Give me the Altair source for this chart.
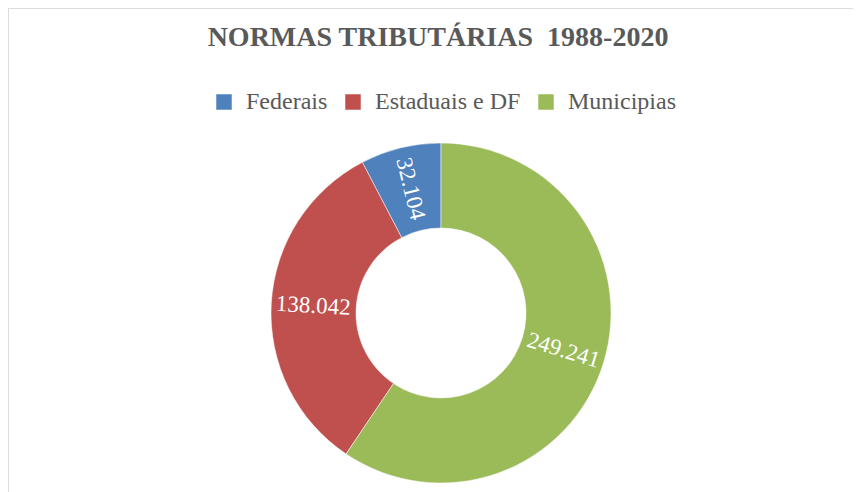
import altair as alt
import pandas as pd

categories = ["Federais", "Estaduais e DF", "Municipias"]
values = [32104, 138042, 249241]
title_text = "NORMAS TRIBUTÁRIAS \u00a01988-2020"

colors = ["#4F81BD", "#C0504D", "#9BBB59"]

df = pd.DataFrame({"categoria": categories, "valor": values})

W, H = 845, 484
CX, CY = 433, 305
SERIF = "'Liberation Serif', 'Times New Roman', serif"

base = alt.Chart(df)

arcs = base.mark_arc(radius=170, radius2=85, stroke="white", strokeWidth=0.5).encode(
    theta=alt.Theta("valor:Q", stack=True),
    order=alt.Order("valor:Q", sort="descending"),
    color=alt.Color(
        "categoria:N",
        sort=categories,
        scale=alt.Scale(domain=categories, range=colors),
        legend=alt.Legend(
            orient="none",
            legendX=204,
            legendY=82,
            direction="horizontal",
            title=None,
            symbolType="square",
            symbolSize=240,
            symbolStrokeWidth=0,
            labelFont=SERIF,
            labelFontSize=24,
            labelColor="#595959",
            labelOffset=10,
            columnPadding=13,
        ),
    ),
    x=alt.value(CX),
    y=alt.value(CY),
)

labels = (
    base.transform_joinaggregate(total="sum(valor)")
    .transform_window(
        cum="sum(valor)",
        sort=[alt.SortField("valor", order="descending")],
        frame=[None, 0],
    )
    .transform_calculate(
        mid="(datum.cum - datum.valor / 2) / datum.total * 360",
        rot="((datum.mid - 90) % 180 + 180) % 180",
        rotulo="replace(format(datum.valor, ','), ',', '.')",
    )
    .mark_text(
        radius=128,
        font="Liberation Serif",
        fontSize=23,
        color="white",
        align="center",
        baseline="middle",
    )
    .encode(
        theta=alt.Theta("valor:Q", stack=True),
        order=alt.Order("valor:Q", sort="descending"),
        text=alt.Text("rotulo:N"),
        angle=alt.Angle("rot:Q", scale=None),
        x=alt.value(CX),
        y=alt.value(CY),
    )
)

one = alt.Data(values=[{"t": title_text}])

title = alt.Chart(one).mark_text(
    font="Liberation Serif",
    fontSize=28,
    fontWeight="bold",
    color="#595959",
    align="center",
    baseline="middle",
).encode(text=alt.Text("t:N"), x=alt.value(430), y=alt.value(30))

border_top = alt.Chart(alt.Data(values=[{}])).mark_rule(color="#dcdcdc", strokeWidth=2).encode(
    x=alt.value(0), x2=alt.value(W), y=alt.value(0)
)
border_left = alt.Chart(alt.Data(values=[{}])).mark_rule(color="#dcdcdc", strokeWidth=2).encode(
    x=alt.value(0), y=alt.value(0), y2=alt.value(H)
)

chart = (
    alt.layer(border_top, border_left, arcs, labels, title)
    .properties(width=W, height=H, autosize=alt.AutoSizeParams(type="none"), padding=0)
    .configure_view(stroke=None)
    .configure_legend(labelFont=SERIF, labelFontSize=24, labelColor="#595959")
)

chart.save("out.html", embed_options={"renderer": "svg", "actions": False})
